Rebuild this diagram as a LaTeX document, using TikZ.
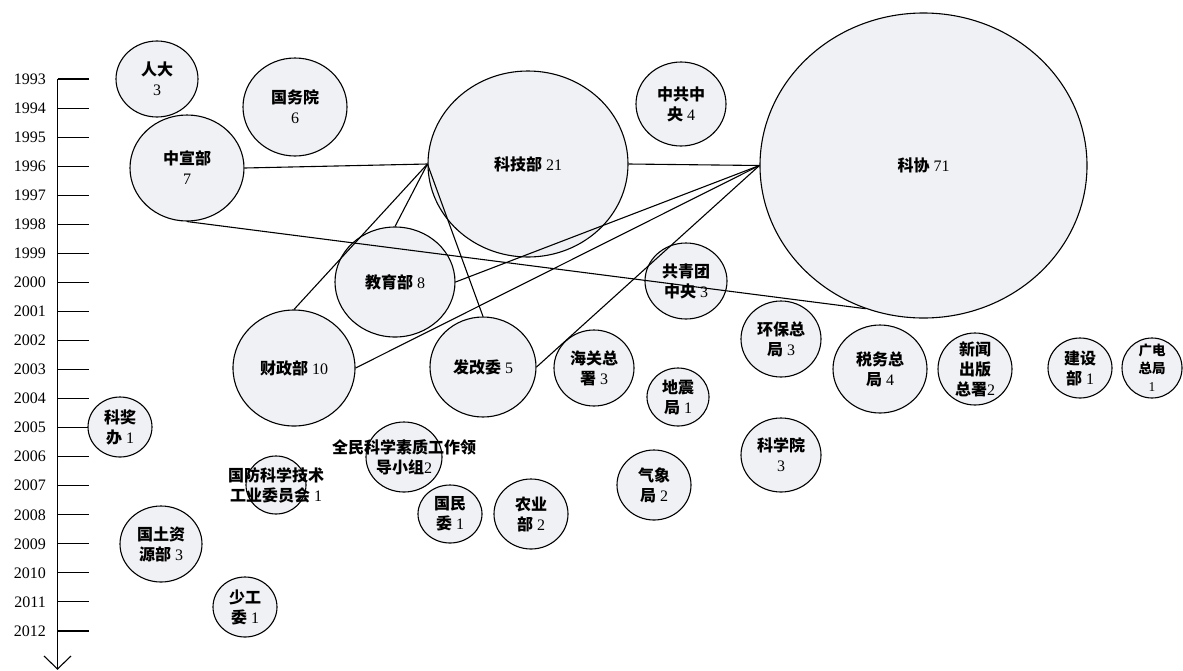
\documentclass[tikz,border=0pt]{standalone}
\usepackage{fontspec}
\setmainfont{Liberation Serif}
\newfontfamily\cjk{Noto Sans CJK SC}
\usetikzlibrary{shapes.geometric}
\definecolor{bubfill}{RGB}{240,241,244}
\newcommand{\zh}[1]{{\cjk\bfseries #1}}
\tikzset{
  bub/.style={ellipse, draw=black, fill=bubfill, line width=1.1pt, inner sep=0pt},
  txt/.style={font=\fontsize{16}{20}\selectfont, align=center, inner sep=0pt},
  smalltxt/.style={font=\fontsize{13.5}{18}\selectfont, align=center, inner sep=0pt},
  yr/.style={font=\fontsize{16}{18}\selectfont, anchor=east, inner sep=0pt},
  link/.style={line width=1.1pt, draw=black},
  axisline/.style={line width=1.1pt, draw=black}
}
\newcommand{\bub}[7][txt]{%
  \node[bub, minimum width={2*#5pt}, minimum height={2*#6pt}] (#2) at (#3,#4) {};
  \node[#1] (#2-t) at (#2) {#7};
}
\begin{document}
\begin{tikzpicture}[x=1pt,y=-1pt]
\useasboundingbox (0,0) rectangle (1183,670);
% time axis
\coordinate (axtop) at (57.5,79);
\coordinate (axbot) at (57.5,669);
\coordinate (arl) at (44,656);
\coordinate (arr) at (71,656);
\draw[axisline] (axtop) -- (axbot);
\draw[axisline, line join=miter] (arl) -- (axbot) -- (arr);
\foreach \yr [count=\i from 0] in {1993,...,2012}{
  \pgfmathsetmacro{\ty}{79+29.05*\i}
  \coordinate (t\yr) at (57.5,\ty);
  \coordinate (te\yr) at (89,\ty);
  \draw[axisline] (t\yr) -- (te\yr);
  \node[yr] (y\yr) at (46,\ty) {\yr};
}
% bubbles
\bub{rd}{157}{79}{41}{38}{\zh{人大}\\3}
\bub{gwy}{295}{107}{52}{49}{\zh{国务院}\\6}
\bub{zxb}{187}{168}{57}{53}{\zh{中宣部}\\7}
\bub{kjb}{528}{164}{100}{93}{\zh{科技部} 21}
\bub{zgzy}{681}{104}{45}{42}{\zh{中共中}\\\zh{央} 4}
\bub{kx}{923.5}{165.5}{163.5}{152.5}{\zh{科协} 71}
\bub{jyb}{395}{282}{60}{55}{\zh{教育部} 8}
\bub{czb}{294}{368}{61}{58}{\zh{财政部} 10}
\bub{fgw}{483}{367}{53}{50}{\zh{发改委} 5}
\bub{gqt}{686}{281}{41}{38}{\zh{共青团}\\\zh{中央} 3}
\bub{hg}{594}{368}{40}{38}{\zh{海关总}\\\zh{署} 3}
\bub{dz}{678}{397}{31}{29}{\zh{地震}\\\zh{局} 1}
\bub{hb}{781}{339}{40}{38}{\zh{环保总}\\\zh{局} 3}
\bub{sw}{880}{369}{47}{44}{\zh{税务总}\\\zh{局} 4}
\bub{xw}{975}{369}{37}{36}{\zh{新闻}\\\zh{出版}\\\zh{总署}2}
\bub{js}{1080}{368}{32}{30}{\zh{建设}\\\zh{部} 1}
\bub[smalltxt]{gd}{1152}{368}{30}{30}{\zh{广电}\\\zh{总局}\\1}
\bub{kxy}{781}{455}{40}{37}{\zh{科学院}\\3}
\bub{qx}{654}{485}{37}{35}{\zh{气象}\\\zh{局} 2}
\bub{ny}{531}{514}{37}{35}{\zh{农业}\\\zh{部} 2}
\bub{gm}{450}{514}{32}{29}{\zh{国民}\\\zh{委} 1}
\bub{qm}{404}{457}{38}{35}{\zh{全民科学素质工作领}\\\zh{导小组}2}
\bub{gf}{276}{485}{30}{29}{\zh{国防科学技术}\\\zh{工业委员会} 1}
\bub{kjbo}{120}{427}{32}{30}{\zh{科奖}\\\zh{办} 1}
\bub{gt}{161}{544}{41}{38}{\zh{国土资}\\\zh{源部} 3}
\bub{sgw}{245}{607}{32}{30}{\zh{少工}\\\zh{委} 1}
% links
\draw[link] (kjb.west) -- (zxb.east);
\draw[link] (kjb.west) -- (jyb.north);
\draw[link] (kjb.west) -- (czb.north);
\draw[link] (kjb.west) -- (fgw.north);
\draw[link] (kx.west) -- (kjb.east);
\draw[link] (kx.west) -- (jyb.east);
\draw[link] (kx.west) -- (czb.east);
\draw[link] (kx.west) -- (fgw.east);
\draw[link] (zxb.south) -- (kx.248);
\end{tikzpicture}
\end{document}
